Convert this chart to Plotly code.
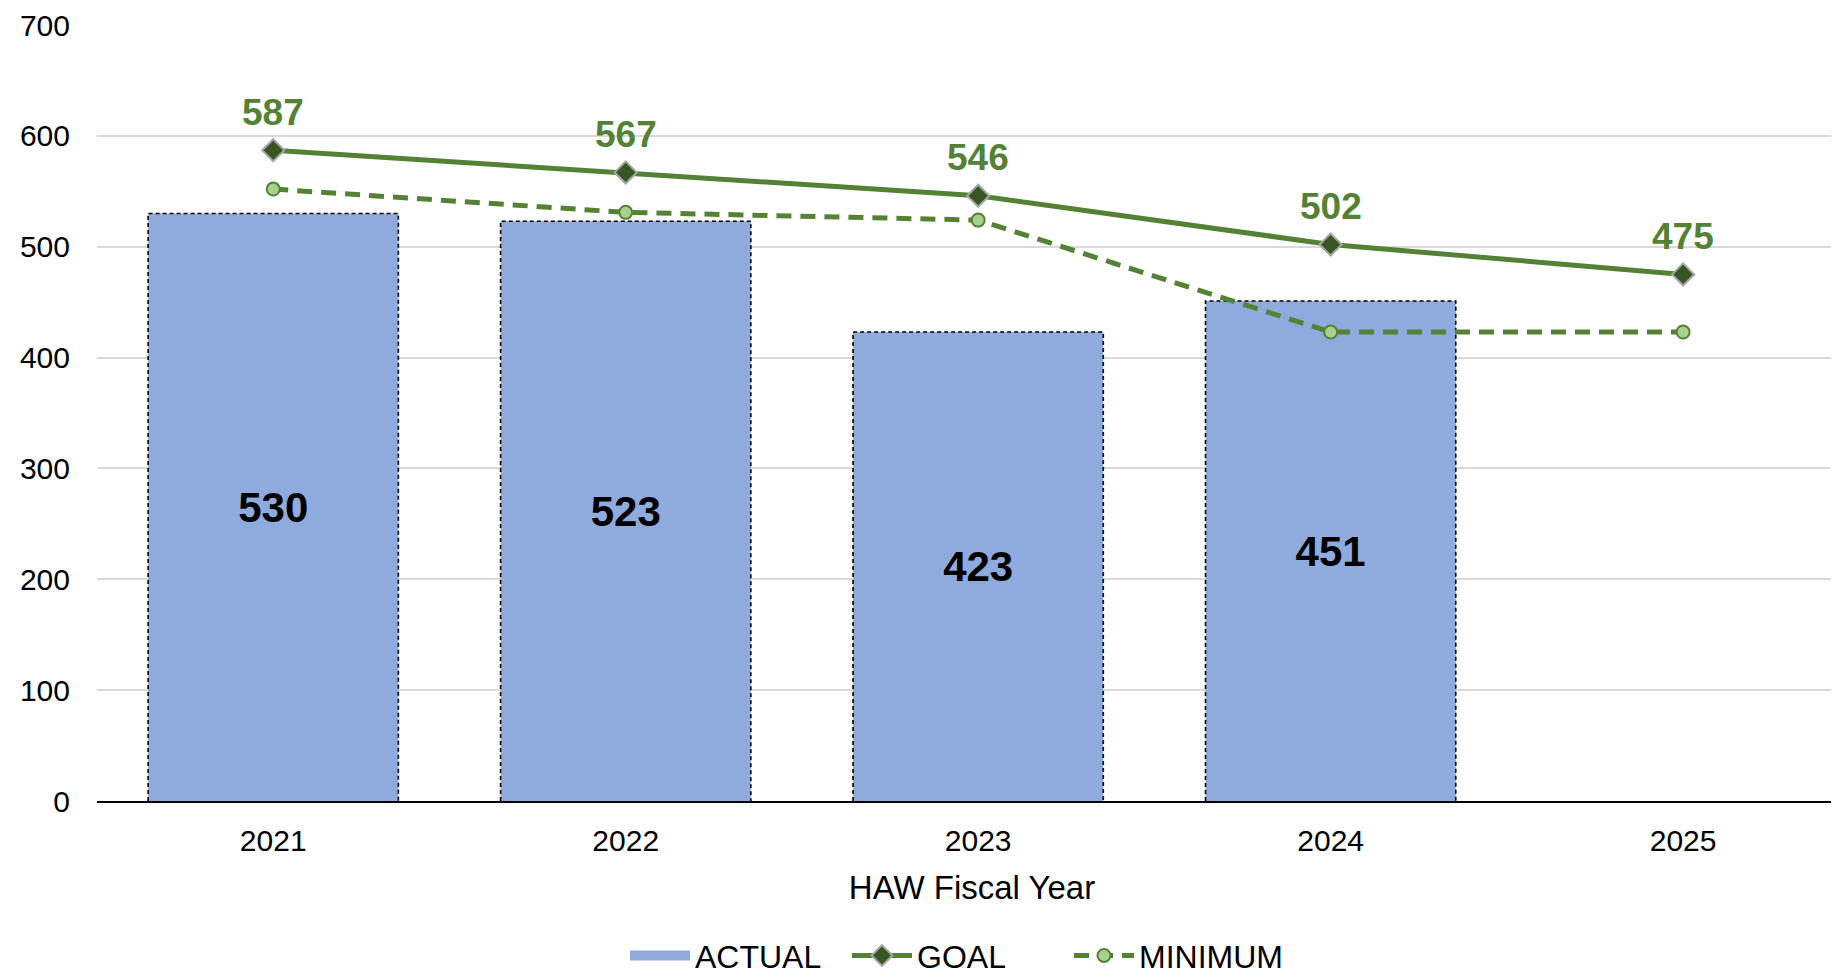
import plotly.graph_objects as go

years = ["2021", "2022", "2023", "2024", "2025"]
actual = [530, 523, 423, 451]
goal = [587, 567, 546, 502, 475]
minimum = [552, 531, 524, 423, 423]
y_ticks = [0, 100, 200, 300, 400, 500, 600, 700]

FONT = "Liberation Sans, Arial, sans-serif"
BAR_W = 0.71
xs = list(range(len(years)))
xa = xs[:len(actual)]

fig = go.Figure()

fig.add_trace(go.Bar(
    x=xa, y=actual, width=BAR_W, name="ACTUAL", showlegend=False,
    marker=dict(color="#8FAADC", line=dict(width=0)),
    text=actual, textposition="inside", insidetextanchor="middle",
    textfont=dict(family=FONT, size=42, color="#000000", weight="bold"),
    textangle=0,
    hoverinfo="skip",
))

# dashed outlines of bars
ox, oy = [], []
for x, v in zip(xa, actual):
    h = BAR_W / 2
    ox += [x - h, x - h, x + h, x + h, None]
    oy += [0, v, v, 0, None]
fig.add_trace(go.Scatter(
    x=ox, y=oy, mode="lines", showlegend=False, hoverinfo="skip",
    line=dict(color="#000000", width=1.6, dash="4px,3px"),
))

# legend entry for bars
fig.add_trace(go.Scatter(
    x=[None], y=[None], mode="lines", name="ACTUAL",
    line=dict(color="#8FAADC", width=22),
))

fig.add_trace(go.Scatter(
    x=xs, y=goal, name="GOAL", mode="lines+markers",
    line=dict(color="#548235", width=5),
    marker=dict(symbol="diamond", size=17, color="#375623",
                line=dict(color="#A5A5A5", width=2)),
))

fig.add_trace(go.Scatter(
    x=xs, y=minimum, name="MINIMUM", mode="lines+markers",
    line=dict(color="#548235", width=5, dash="15px,9px"),
    marker=dict(symbol="circle", size=13, color="#A9D18E",
                line=dict(color="#548235", width=2)),
))

for x, v in zip(xs, goal):
    fig.add_annotation(
        x=x, y=v, text=f"<b>{v}</b>", showarrow=False, yshift=38,
        font=dict(family=FONT, size=37, color="#548235"),
    )

fig.update_layout(
    width=1839, height=979,
    margin=dict(l=89, r=0, t=17, b=186, autoexpand=False),
    paper_bgcolor="white", plot_bgcolor="white",
    font=dict(family=FONT, size=30, color="#000000"),
    showlegend=True,
    legend=dict(orientation="h", x=0.492, xanchor="center",
                yref="container", y=0.032, yanchor="middle",
                font=dict(family=FONT, size=32, color="#000000"),
                itemwidth=60, traceorder="normal",
                entrywidth=147, entrywidthmode="pixels"),
)

fig.update_xaxes(
    range=[-0.5, 4.465], tickmode="array", tickvals=xs, ticktext=years,
    showgrid=False, showline=True, linecolor="#000000", linewidth=2,
    zeroline=False, ticks="", tickfont=dict(size=30),
    ticklabelstandoff=12, automargin=False,
    title=dict(text="HAW Fiscal Year", font=dict(size=33), standoff=20),
)
fig.update_yaxes(
    range=[0, 700], tickmode="array", tickvals=y_ticks,
    showgrid=True, gridcolor="#D9D9D9", gridwidth=1.5,
    zeroline=False, showline=False, ticks="", tickfont=dict(size=30),
    ticklabelstandoff=26, automargin=False, ticklabeloverflow="allow",
)

fig.write_html("out.html")
